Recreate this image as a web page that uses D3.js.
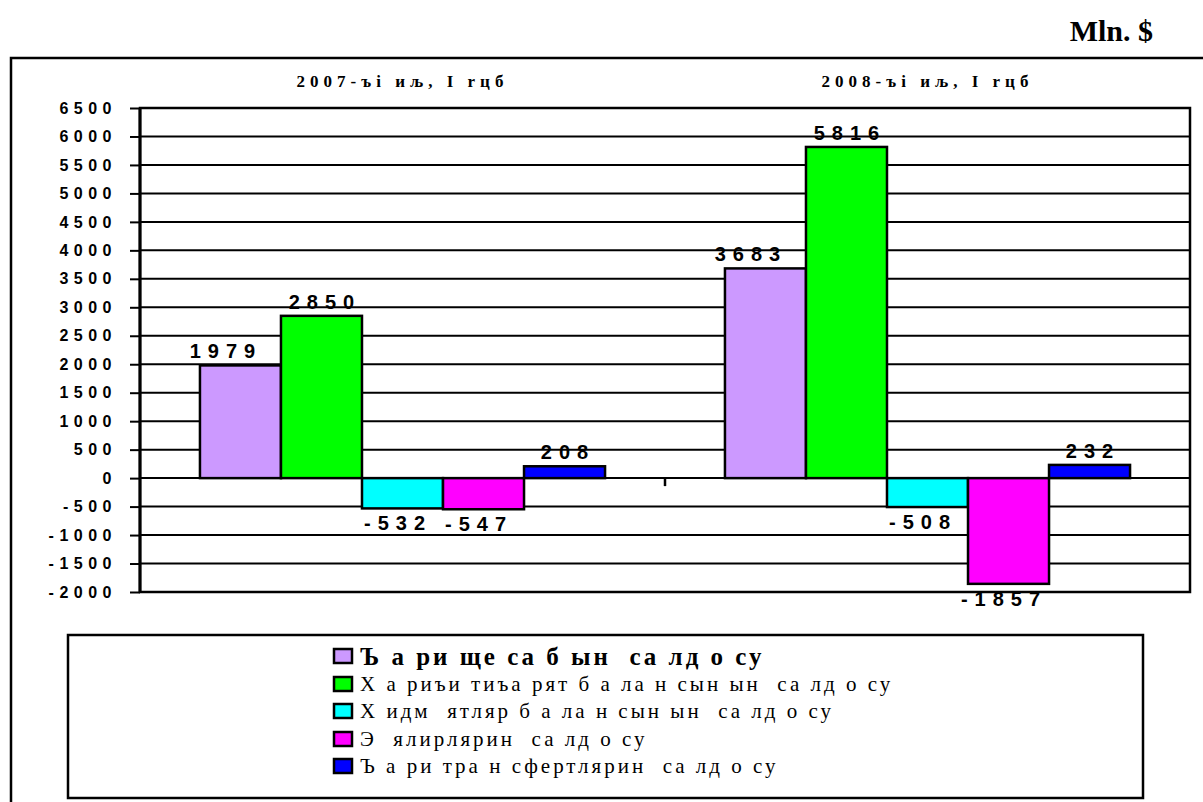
<!DOCTYPE html>
<html>
<head>
<meta charset="utf-8">
<script src="https://cdn.jsdelivr.net/npm/d3@7"></script>
<style>
  body { margin: 0; background: #fff; }
  svg { display: block; }
</style>
</head>
<body>
<svg></svg>
<script>
// chart data
var categories = ["2007-ъi иљ, I rцб", "2008-ъi иљ, I rцб"];
var seriesNames = [
  "Ъ а ри ще са б ын  са лд о су",
  "Х а риъи тиъа рят б а ла н сын ын  са лд о су",
  "Х идм  ятляр б а ла н сын ын  са лд о су",
  "Э  ялирлярин  са лд о су",
  "Ъ а ри тра н сфертлярин  са лд о су"
];
var seriesColors = ["#cc99ff", "#00ff00", "#00ffff", "#ff00ff", "#0000ff"];
var values2007 = [1979, 2850, -532, -547, 208];
var values2008 = [3683, 5816, -508, -1857, 232];
var yTicks = [-2000, -1500, -1000, -500, 0, 500, 1000, 1500, 2000, 2500,
              3000, 3500, 4000, 4500, 5000, 5500, 6000, 6500];

var groups = [values2007, values2008];

var width = 1203, height = 802;
var plot = {left: 140, right: 1190, top: 108, bottom: 592};

var svg = d3.select("svg")
    .attr("width", width)
    .attr("height", height);

// outer frame (only top and left visible)
svg.append("path")
    .attr("d", "M11,802V58H1203")
    .attr("fill", "none")
    .attr("stroke", "#000")
    .attr("stroke-width", 2.5);

svg.append("text")
    .attr("x", 1153)
    .attr("y", 41)
    .attr("text-anchor", "end")
    .style("font-family", "'Liberation Serif', 'Times New Roman', serif")
    .style("font-weight", "bold")
    .style("font-size", "30px")
    .text("Mln. $");

var y = d3.scaleLinear()
    .domain([-2000, 6500])
    .range([plot.bottom, plot.top]);

var x0 = d3.scaleBand()
    .domain(categories)
    .range([plot.left, plot.right]);

var x1 = d3.scaleBand()
    .domain(d3.range(seriesNames.length))
    .range([0, x0.bandwidth()])
    .paddingInner(0)
    .paddingOuter(0.74);

var g = svg.append("g");

// grid lines
g.selectAll(".grid")
    .data(yTicks)
  .enter().append("line")
    .attr("class", "grid")
    .attr("x1", plot.left)
    .attr("x2", plot.right)
    .attr("y1", function(d) { return y(d); })
    .attr("y2", function(d) { return y(d); })
    .attr("stroke", "#000")
    .attr("stroke-width", 2);

// y axis
var yAxis = d3.axisLeft(y)
    .tickValues(yTicks)
    .tickFormat(function(d) { return String(d); })
    .tickSize(10)
    .tickPadding(18);

var ya = g.append("g")
    .attr("transform", "translate(" + plot.left + ",0)")
    .call(yAxis);
ya.select(".domain").remove();
ya.selectAll(".tick line").attr("stroke", "#000").attr("stroke-width", 2);
ya.selectAll(".tick text")
    .attr("dx", 5)
    .style("font-family", "'Liberation Sans', Arial, sans-serif")
    .style("font-weight", "bold")
    .style("font-size", "16px")
    .style("letter-spacing", "5.5px")
    .attr("fill", "#000");

// bars
var bars = g.selectAll(".group")
    .data(groups)
  .enter().append("g")
    .attr("class", "group")
    .attr("transform", function(d, i) {
      return "translate(" + x0(categories[i]) + ",0)"; });

bars.selectAll("rect")
    .data(function(d) { return d; })
  .enter().append("rect")
    .attr("x", function(d, i) { return x1(i); })
    .attr("width", x1.bandwidth())
    .attr("y", function(d) { return y(Math.max(0, d)); })
    .attr("height", function(d) { return Math.abs(y(d) - y(0)); })
    .attr("fill", function(d, i) { return seriesColors[i]; })
    .attr("stroke", "#000")
    .attr("stroke-width", 2.5);

bars.selectAll(".lbl")
    .data(function(d) { return d; })
  .enter().append("text")
    .attr("class", "lbl")
    .attr("x", function(d, i) {
      var off = i === 0 ? -18 : (d < 0 ? -8 : 0);
      return x1(i) + x1.bandwidth() / 2 + off + 3.5; })
    .attr("y", function(d) { return d >= 0 ? y(d) - 7 : y(d) + 22; })
    .attr("text-anchor", "middle")
    .style("font-family", "'Liberation Sans', Arial, sans-serif")
    .style("font-weight", "bold")
    .style("font-size", "20px")
    .style("letter-spacing", "7px")
    .text(function(d) { return d; });

// plot border and left axis line
g.append("rect")
    .attr("x", plot.left)
    .attr("y", plot.top)
    .attr("width", plot.right - plot.left)
    .attr("height", plot.bottom - plot.top)
    .attr("fill", "none")
    .attr("stroke", "#000")
    .attr("stroke-width", 2.5);

g.append("line")
    .attr("x1", plot.left).attr("x2", plot.left)
    .attr("y1", plot.top).attr("y2", plot.bottom)
    .attr("stroke", "#000")
    .attr("stroke-width", 3);

// category boundary tick on zero line
g.append("line")
    .attr("x1", x0(categories[1])).attr("x2", x0(categories[1]))
    .attr("y1", y(0)).attr("y2", y(0) + 8)
    .attr("stroke", "#000")
    .attr("stroke-width", 2.5);

// category labels at the top
g.selectAll(".cat")
    .data(categories)
  .enter().append("text")
    .attr("class", "cat")
    .attr("x", function(d) { return x0(d) + x0.bandwidth() / 2; })
    .attr("y", 87)
    .attr("text-anchor", "middle")
    .style("font-family", "'Liberation Serif', 'Times New Roman', serif")
    .style("font-weight", "bold")
    .style("font-size", "17px")
    .style("letter-spacing", "5px")
    .text(function(d) { return d; });

// legend
var legend = svg.append("g");
legend.append("rect")
    .attr("x", 68).attr("y", 635)
    .attr("width", 1075).attr("height", 163)
    .attr("fill", "#fff")
    .attr("stroke", "#000")
    .attr("stroke-width", 2.5);

var rowY = [656, 684, 711, 739, 766];
var item = legend.selectAll(".item")
    .data(seriesNames)
  .enter().append("g")
    .attr("class", "item")
    .attr("transform", function(d, i) { return "translate(334," + rowY[i] + ")"; });

item.append("rect")
    .attr("x", 0).attr("y", -7)
    .attr("width", 18).attr("height", 14)
    .attr("fill", function(d, i) { return seriesColors[i]; })
    .attr("stroke", "#000")
    .attr("stroke-width", 2.5);

item.append("text")
    .attr("x", 26)
    .attr("y", function(d, i) { return i === 0 ? 9 : 7; })
    .style("font-family", "'Liberation Serif', 'Times New Roman', serif")
    .style("font-weight", function(d, i) { return i === 0 ? "bold" : "normal"; })
    .style("font-size", function(d, i) { return i === 0 ? "25px" : "21px"; })
    .style("letter-spacing", function(d, i) { return i === 0 ? "3px" : "3px"; })
    .style("white-space", "pre")
    .text(function(d) { return d; });
</script>
</body>
</html>
